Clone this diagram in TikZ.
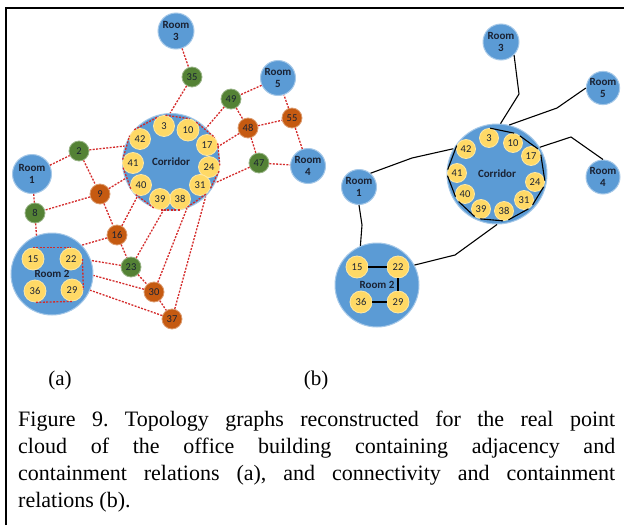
\documentclass[tikz,border=0pt]{standalone}
\usepackage{fontspec}
\setmainfont{Liberation Serif}
\newfontfamily\carl{Carlito}
\definecolor{cblue}{HTML}{5B9BD5}
\definecolor{cyel}{HTML}{FFD966}
\definecolor{cgrn}{HTML}{548235}
\definecolor{corg}{HTML}{C55A11}
\definecolor{cred}{HTML}{D42A2A}
\definecolor{ctxt}{HTML}{1A2233}
\tikzset{
  room/.style={circle, fill=cblue, draw=cblue!55, line width=1pt, inner sep=0pt, text=ctxt,
    align=center, font=\carl\bfseries\fontsize{11}{12.5}\selectfont},
  ylw/.style={circle, fill=cyel, draw=cyel!60, line width=0.8pt, inner sep=0pt, text=ctxt,
    font=\carl\fontsize{10.5}{12}\selectfont},
  grn/.style={circle, fill=cgrn, draw=cgrn!60, line width=0.8pt, inner sep=0pt, minimum size=20pt,
    text=ctxt, font=\carl\fontsize{10.5}{12}\selectfont},
  org/.style={circle, fill=corg, draw=corg!60, line width=0.8pt, inner sep=0pt, minimum size=20pt,
    text=ctxt, font=\carl\fontsize{10.5}{12}\selectfont},
  adj/.style={draw=cred, line width=1.3pt, dash pattern=on 2pt off 1.4pt},
  conn/.style={draw=black, line width=1.1pt},
  lbl/.style={inner sep=0pt, font=\fontsize{21}{25}\selectfont}
}
\begin{document}
\begin{tikzpicture}[x=1pt,y=-1pt]
\useasboundingbox (0,0) rectangle (624,525);
\fill[white] (0,0) rectangle (624,525);
\draw[line width=2pt] (5.7,525) -- (5.7,7.7) -- (624,7.7);

% ---------------- (a) ----------------
\node[room, minimum size=36pt] (R3a) at (176,31) {Room\\3};
\node[room, minimum size=35pt] (R5a) at (278,78) {Room\\5};
\node[room, minimum size=35pt] (R4a) at (308,166) {Room\\4};
\node[room, minimum size=39pt] (R1a) at (32,174) {Room\\1};
\node[room, minimum size=97pt] (Ca) at (171,162) {Corridor};
\node[room, minimum size=82pt] (R2a) at (52,274) {Room 2};

\node[ylw, minimum size=21pt] (a3) at (164,126) {3};
\node[ylw, minimum size=22pt] (a10) at (188,130) {10};
\node[ylw, minimum size=21pt] (a17) at (207,145) {17};
\node[ylw, minimum size=21pt] (a24) at (209,167) {24};
\node[ylw, minimum size=21pt] (a31) at (200,185) {31};
\node[ylw, minimum size=21pt] (a38) at (180,199) {38};
\node[ylw, minimum size=21pt] (a39) at (160,199) {39};
\node[ylw, minimum size=21pt] (a40) at (141,185) {40};
\node[ylw, minimum size=21pt] (a41) at (133,163) {41};
\node[ylw, minimum size=21pt] (a42) at (140,139) {42};

\node[ylw, minimum size=22pt] (r15a) at (33,259) {15};
\node[ylw, minimum size=22pt] (r22a) at (71,259) {22};
\node[ylw, minimum size=22pt] (r36a) at (35,291) {36};
\node[ylw, minimum size=22pt] (r29a) at (72,290) {29};

\node[grn] (n35) at (192,77) {35};
\node[grn] (n49) at (231,99) {49};
\node[org] (n55) at (292,118) {55};
\node[org] (n48) at (248,128) {48};
\node[grn] (n47) at (259,163) {47};
\node[grn] (n2) at (79,151) {2};
\node[org] (n9) at (100,194) {9};
\node[grn] (n8) at (35,213) {8};
\node[org] (n16) at (117,235) {16};
\node[grn] (n23) at (131,267) {23};
\node[org] (n30) at (154,292) {30};
\node[org] (n37) at (172,319) {37};

\draw[adj] (R3a) -- (n35);
\draw[adj] (n35) -- (Ca.91);
\draw[adj] (R5a) -- (n49);
\draw[adj] (n49) -- (Ca.44);
\draw[adj] (n49) -- (n48);
\draw[adj] (n48) -- (n55);
\draw[adj] (n55) -- (R5a);
\draw[adj] (n55) -- (R4a);
\draw[adj] (n48) -- (Ca.18);
\draw[adj] (n48) -- (n47);
\draw[adj] (n47) -- (R4a);
\draw[adj] (n47) -- (Ca.-25);
\draw[adj] (R1a) -- (n2);
\draw[adj] (n2) -- (Ca.161);
\draw[adj] (n2) -- (n9);
\draw[adj] (n9) -- (Ca.200);
\draw[adj] (n9) -- (n8);
\draw[adj] (n9) -- (n16);
\draw[adj] (R1a.-85) -- (n8);
\draw[adj] (n8) -- (R2a.112);
\draw[adj] (n16) -- (R2a.44);
\draw[adj] (n16) -- (Ca.226);
\draw[adj] (n16) -- (n23);
\draw[adj] (n23) -- (R2a.19);
\draw[adj] (n23) -- (Ca.261);
\draw[adj] (n23) -- (n30);
\draw[adj] (n30) -- (R2a.-2);
\draw[adj] (n30) -- (Ca.289);
\draw[adj] (n30) -- (n37);
\draw[adj] (n37) -- (R2a.-23);
\draw[adj] (n37) -- (Ca.315);

\draw[adj] (a3.82) -- (a10.82);
\draw[adj] (a10.44) -- (a17.44);
\draw[adj] (a17.9) -- (a24.9);
\draw[adj] (a24.-23) -- (a31.-23);
\draw[adj] (a31.-57) -- (a38.-57);
\draw[adj] (a38.-92) -- (a39.-92);
\draw[adj] (a39.-125) -- (a40.-125);
\draw[adj] (a40.-160) -- (a41.-160);
\draw[adj] (a41.162) -- (a42.162);
\draw[adj] (a42.122) -- (a3.122);

\draw[adj] (r15a.north) -- (r22a.north);
\draw[adj] (r22a.east) -- (r29a.east);
\draw[adj] (r29a.south) -- (r36a.south);

% ---------------- (b) ----------------
\node[room, minimum size=36pt] (R3b) at (501,42) {Room\\3};
\node[room, minimum size=32pt] (R5b) at (603,88) {Room\\5};
\node[room, minimum size=34pt] (R4b) at (603,177) {Room\\4};
\node[room, minimum size=35pt] (R1b) at (359,187) {Room\\1};
\node[room, minimum size=100pt] (Cb) at (497,174) {Corridor};
\node[room, minimum size=84pt] (R2b) at (377,285) {Room 2};

\node[ylw, minimum size=19pt] (b3) at (489,138) {3};
\node[ylw, minimum size=19pt] (b10) at (513,143) {10};
\node[ylw, minimum size=19pt] (b17) at (531,156) {17};
\node[ylw, minimum size=19pt] (b24) at (535,182) {24};
\node[ylw, minimum size=19pt] (b31) at (524,200) {31};
\node[ylw, minimum size=19pt] (b38) at (504,211) {38};
\node[ylw, minimum size=19pt] (b39) at (481,209) {39};
\node[ylw, minimum size=19pt] (b40) at (465,194) {40};
\node[ylw, minimum size=19pt] (b41) at (457,173) {41};
\node[ylw, minimum size=19pt] (b42) at (466,149) {42};

\node[ylw, minimum size=22pt] (r15b) at (357,267) {15};
\node[ylw, minimum size=22pt] (r22b) at (398,267) {22};
\node[ylw, minimum size=22pt] (r36b) at (361,302) {36};
\node[ylw, minimum size=22pt] (r29b) at (398,302) {29};

\coordinate (k3) at (519,94);
\coordinate (k5) at (557,108);
\coordinate (k4) at (571,137);
\coordinate (k1) at (412,158);
\coordinate (k12) at (362,225);
\coordinate (k2) at (455,255);
\draw[conn] (R3b.-45) -- (k3) -- (Cb.86);
\draw[conn] (R5b.180) -- (k5) -- (Cb.76);
\draw[conn] (R4b.90) -- (k4) -- (Cb.32);
\draw[conn] (R1b.50) -- (k1) -- (Cb.150);
\draw[conn] (R1b.-90) -- (k12) -- (R2b.113);
\draw[conn] (R2b.28) -- (k2) -- (Cb.-90);

\draw[conn] (b3.83) -- (b10.83);
\draw[conn] (b10.46) -- (b17.46);
\draw[conn] (b17.8) -- (b24.8);
\draw[conn] (b24.-29) -- (b31.-29);
\draw[conn] (b31.-63) -- (b38.-63);
\draw[conn] (b38.-96) -- (b39.-96);
\draw[conn] (b39.-130) -- (b40.-130);
\draw[conn] (b40.-164) -- (b41.-164);
\draw[conn] (b41.160) -- (b42.160);

\draw[conn] (r15b) -- (r22b);
\draw[conn] (r22b) -- (r29b);
\draw[conn] (r29b) -- (r36b);

% ---------------- labels ----------------
\node[lbl] (la) at (60,380) {(a)};
\node[lbl] (lb) at (316,380) {(b)};
\node[anchor=north west, inner sep=0pt, text width=597pt, align=justify,
  font=\fontsize{22}{27}\selectfont] (cap) at (18,411)
  {\frenchspacing\hyphenpenalty=10000 Figure 9. Topology graphs reconstructed for the real point\linebreak
   cloud of the office building containing adjacency and\linebreak
   containment relations (a), and connectivity and containment\linebreak
   relations (b).};
\end{tikzpicture}
\end{document}
